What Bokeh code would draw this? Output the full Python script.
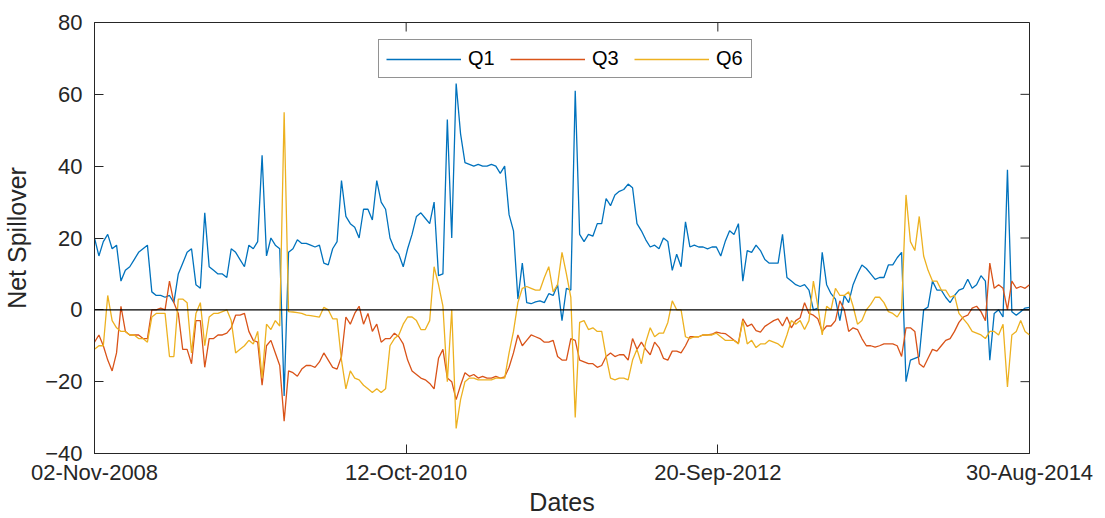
import numpy as np
import pandas as pd
from bokeh.plotting import figure
from bokeh.models import (Span, Legend, LegendItem, FixedTicker, DatetimeTickFormatter, Range1d)
from bokeh.embed import file_html
from bokeh.resources import INLINE

start_date = "2008-11-02"
end_date = "2014-08-30"
tick_dates = ["2008-11-02", "2010-10-12", "2012-09-20", "2014-08-30"]
y_ticks = [-40, -20, 0, 20, 40, 60, 80]

q1 = [20, 15, 19, 21, 17, 18, 8, 11, 12, 14, 16, 17, 18, 5, 4, 4, 3.5, 4, 2, 10, 13, 16, 17, 7, 6, 27, 12, 11, 10, 10, 9,
      17, 16, 14, 12, 18, 17, 19, 43, 15, 20, 18, 17, -24, 16, 17, 19.5, 18.5, 18.5, 18, 17.5, 18, 13, 12.5, 17, 19, 36, 26, 24, 23, 20, 28,
      28, 25, 36, 30, 28, 20, 17, 15.5, 12, 17, 21, 26, 27, 25.5, 24, 30, 9.5, 10, 53, 20, 63, 49, 41, 40.5, 40, 40.5, 40, 40, 40.5, 40, 38,
      40, 26.5, 22, 3, 13, 2, 1.7, 2.2, 2.5, 2, 4.5, 4, 7, -3, 6, 5.5, 61, 21, 19, 21, 20.5, 24, 24, 31, 29, 32, 33, 33.5, 35, 34, 24,
      22, 19.5, 17.5, 18, 17, 20, 19, 11, 15.5, 12, 24.5, 17.5, 18, 17.5, 17.5, 17, 17.5, 17.5, 15, 19, 22, 21, 24, 8, 16.5, 16, 18, 16.5, 14, 13,
      13, 13, 21, 9, 8, 7, 6.5, 7, 5.5, 0, 0.5, 16, 7, 4.5, 3, -3, 4, 2, 7, 10, 12.5, 11.5, 10, 8.5, 9, 9, 12.5, 12.5, 14.5, 16, -20,
      -14, -13.5, -13, 0, 0.8, 8, 5.5, 5.5, 3.5, 2, 4, 5.5, 6, 8.5, 6, 7, 9.5, 8, -14, -1, 0, -2, 39, -0.5, -1.5, -0.5, 0.5, 0.7]

q3 = [-9, -7, -10, -14, -17, -12, 1, -6, -7, -7, -7, -8, -8, 0, 0, 0.5, 0, 8, 2, -1, -11, -11, -15, -3, -3, -16, -8, -8, -7, -7, -6.5,
      -5, -1.5, -1.5, -1, -6, -8.5, -9, -21, -10, -8.5, -12, -15.5, -31, -17, -17.5, -18.5, -16.5, -15.5, -15.5, -16, -14.5, -12, -14, -16, -16.5, -13, -2, -4, -1, 1, -4,
      -1, -6, -4, -9, -8, -8, -6.5, -7.5, -9.5, -14, -17, -18, -19, -19.5, -20.5, -22, -13.5, -11, -19, -20, -25, -21, -17.5, -18.5, -18, -19, -18.5, -19, -19, -18.5, -19,
      -18.7, -16, -12, -7, -10, -8.5, -7, -7.5, -8, -9, -9, -8.5, -13, -14, -14, -8, -8.5, -14, -14.5, -15, -15, -16, -15.5, -13, -12, -13, -12.5, -12.5, -14, -8, -11,
      -9, -11, -12.5, -9, -10.5, -13.5, -14, -11.5, -11.5, -12, -10, -7.5, -7.5, -7.5, -7, -7, -6.8, -6.2, -6.5, -6.6, -7.5, -8.5, -9.3, -2.5, -4.6, -4, -5.8, -6.2, -4.6, -3.8,
      -3, -2.5, -4.5, -2, -5, -3, -2.2, 2, -1, -1.5, -2.5, -6, -4.5, -4.5, -3, 2.5, 0, -6, -5, -5.5, -8, -10, -10, -10.4, -10, -9.5, -9.5, -9.5, -10, -13, -5,
      -5, -6, -15, -16, -13.5, -11, -11.5, -10, -8.5, -8, -6, -3.5, -2, -1.5, 0.5, 1, -0.5, -3, 13, 6, 7, 6, 0, 8, 6, 6.5, 6, 7]

q6 = [-11, -10, -10, 4, -3, -5, -6, -6, -7, -7, -8, -8, -9, -2, -1, -1, -1, -13, -13, 3, 3, 2, -12, -1, 2, -10, -2, -1, -1, -0.5, 0,
      -3, -12, -11, -10, -8.5, -9.5, -6, -19, -4, -5.5, -3, -4.5, 55, -0.5, -0.6, -0.8, -1, -1.5, -1.6, -1.8, -2, 0.7, 0, -2.5, -2.5, -14, -22, -17, -19, -19.5, -21,
      -22, -23, -22, -23, -22, -10, -8, -7, -4, -2, -2, -3, -5.5, -5.5, -3, 12, 7, 1, -20, 0, -33, -25, -20, -19, -19, -19.5, -19.5, -19.5, -19.5, -19, -19,
      -19, -12, -6, 2, 6, 6.5, 6, 5.5, 5.5, 9, 12, 5, 7, 16, 10, 3.5, -30, -3.5, -3, -5.5, -5, -6, -6, -13, -19, -19.5, -19, -19, -19.5, -14, -11,
      -15, -9, -5, -7.5, -6.5, -6.5, -3.5, 2.5, 0, 0, -7.5, -8, -7.5, -7.5, -7, -7, -7, -6.5, -7.5, -8.5, -8.5, -8.5, -9.5, -3, -9.5, -8.5, -10.5, -9.5, -9.5, -8.5,
      -9, -9.5, -10.5, -7, -3, -4, -3, -5.5, -3, 8, 1, -7, 1, 0, 6, 4, 4, 5, 1, -4, -3, 0, 1.5, 3.5, 3.5, 2, -0.5, -1, -2, 0, 32,
      19, 16.5, 26, 15, 11, 8, 8, 5.5, 5.5, 3.5, 4, -1, -2.5, -4, -6, -6.5, -7, -8, -6, -6, -7, -4, -21.5, -7, -6, -3, -6, -7]

t0 = pd.Timestamp(start_date)
t1 = pd.Timestamp(end_date)
dates = pd.to_datetime(np.linspace(t0.value, t1.value, len(q1)))
x_tick_ms = [pd.Timestamp(d).value / 1e6 for d in tick_dates]
x_end_ms = t1.value / 1e6

FONT = "Liberation Sans"
AX = "#262626"

p = figure(width=1100, height=518, x_axis_type="datetime",
           x_range=Range1d(t0, t1), y_range=Range1d(-40, 80),
           output_backend="svg", toolbar_location=None,
           min_border_left=90, min_border_right=71, min_border_top=22, min_border_bottom=65)
p.xgrid.visible = False
p.ygrid.visible = False
p.outline_line_color = AX
p.outline_line_width = 1
p.background_fill_color = "white"
p.border_fill_color = "white"

xt = FixedTicker(ticks=x_tick_ms)
fmt = "%d-%b-%Y"
p.xaxis.ticker = xt
p.xaxis.formatter = DatetimeTickFormatter(milliseconds=fmt, seconds=fmt, minsec=fmt, minutes=fmt,
                                          hourmin=fmt, hours=fmt, days=fmt, months=fmt, years=fmt)
p.yaxis.ticker = FixedTicker(ticks=y_ticks)

for ax in (p.xaxis[0], p.yaxis[0]):
    ax.major_tick_in = 9
    ax.major_tick_out = 0
    ax.minor_tick_line_color = None
    ax.major_tick_line_color = AX
    ax.axis_line_color = AX
    ax.major_label_text_font = FONT
    ax.major_label_text_font_size = "22px"
    ax.major_label_text_color = AX
    ax.axis_label_text_font = FONT
    ax.axis_label_text_font_size = "25px"
    ax.axis_label_text_font_style = "normal"
    ax.axis_label_text_color = AX

p.xaxis.axis_label = "Dates"
p.yaxis.axis_label = "Net Spillover"
p.xaxis.major_label_standoff = 6
p.xaxis.axis_label_standoff = 0
p.yaxis.major_label_standoff = 12
p.yaxis.axis_label_standoff = 11

# inward ticks on the top and right edges of the box
p.ray(x=[x_end_ms] * len(y_ticks), y=y_ticks, length=9, length_units="screen",
      angle=np.pi, line_color=AX, line_width=1)
p.ray(x=x_tick_ms, y=[y_ticks[-1]] * len(x_tick_ms), length=9, length_units="screen",
      angle=-np.pi / 2, line_color=AX, line_width=1)

r1 = p.line(dates, q1, line_color="#0072BD", line_width=1.3)
r3 = p.line(dates, q3, line_color="#D95319", line_width=1.3)
r6 = p.line(dates, q6, line_color="#EDB120", line_width=1.3)

p.add_layout(Span(location=0, dimension="width", line_color="black", line_width=1.3))

legend = Legend(items=[LegendItem(label="Q1", renderers=[r1]),
                       LegendItem(label="Q3", renderers=[r3]),
                       LegendItem(label="Q6", renderers=[r6])],
                orientation="horizontal", location=(284, 375),
                padding=7, margin=0, spacing=14, glyph_width=75, glyph_height=20,
                label_standoff=7, label_width=28, label_height=20,
                label_text_font=FONT, label_text_font_size="20px", label_text_color="black",
                border_line_color=AX, border_line_width=1, background_fill_alpha=1)
p.add_layout(legend)

open("out.html", "w").write(file_html(p, INLINE))
